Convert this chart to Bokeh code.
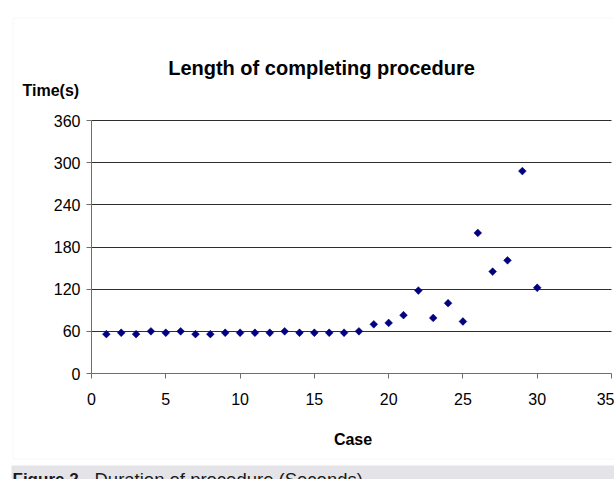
import numpy as np
from bokeh.plotting import figure
from bokeh.models import Range1d, FixedTicker, Label, BoxAnnotation, ColumnDataSource
from bokeh.embed import file_html
from bokeh.resources import INLINE

# ---- data ----
cases = list(range(1, 31))
times = [56, 58, 56, 60, 58, 60, 56, 56, 58, 58, 58, 58, 60, 58, 58, 58, 58, 60,
         70, 72, 83, 118, 79, 100, 74, 200, 145, 161, 288, 122]
x_ticks = [0, 5, 10, 15, 20, 25, 30, 35]
y_ticks = [0, 60, 120, 180, 240, 300, 360]
grid_ticks = [60, 120, 180, 240, 300, 360]
title_text = "Length of completing procedure"
y_label = "Time(s)"
x_label = "Case"
caption_bold = "Figure 2."
caption_text = "Duration of procedure (Seconds)"

W, H = 614, 479
# plot area on the canvas: x 0..35 -> px 91..611, y 0..360 -> px 373..120
X0, X1, Y0, Y1 = 91.0, 611.0, 373.0, 120.0
kx = (X1 - X0) / 35.0
ky = (Y0 - Y1) / 360.0

def px2x(px):
    return (px - X0) / kx

def px2y(py):
    return (Y0 - py) / ky

FONT = "Liberation Sans"

p = figure(width=W, height=H, title=None,
           x_range=Range1d(px2x(0), px2x(W)), y_range=Range1d(px2y(H), px2y(0)),
           output_backend="svg", toolbar_location=None,
           min_border=0, min_border_left=0, min_border_right=0,
           min_border_top=0, min_border_bottom=0)
p.outline_line_color = None
p.background_fill_color = "white"
p.border_fill_color = "white"

# outer chart border and caption band
p.add_layout(BoxAnnotation(left=px2x(12.5), right=px2x(640), top=px2y(17.5), bottom=px2y(458.5),
                           fill_color=None, line_color="#eee0d3", line_width=1, level="underlay"))
p.add_layout(BoxAnnotation(left=px2x(11), right=px2x(640), top=px2y(465), bottom=px2y(520),
                           fill_color="#e4e4e8", fill_alpha=1, line_color=None, level="underlay"))

# grid (horizontal lines only across the plot area)
p.xgrid.visible = False
ygrid = p.ygrid[0]
ygrid.ticker = FixedTicker(ticks=grid_ticks)
ygrid.grid_line_color = "#2e2e2e"
ygrid.grid_line_width = 1
if "cross_bounds" in ygrid.properties():
    ygrid.cross_bounds = (0, 35)
else:
    ygrid.visible = False
    p.segment(x0=[x_ticks[0]] * len(grid_ticks), x1=[x_ticks[-1]] * len(grid_ticks),
              y0=grid_ticks, y1=grid_ticks, line_color="#2e2e2e", line_width=1,
              level="underlay")

# axes drawn at the data origin
for ax in (p.xaxis, p.yaxis):
    ax.fixed_location = 0
    ax.axis_line_color = "#6e6e6e"
    ax.major_tick_line_color = "#6e6e6e"
    ax.minor_tick_line_color = None
    ax.major_tick_in = 0
    ax.major_tick_out = 5
    ax.major_label_text_font = FONT
    ax.major_label_text_font_size = "16px"
    ax.major_label_text_color = "black"
p.xaxis.ticker = FixedTicker(ticks=x_ticks)
p.yaxis.ticker = FixedTicker(ticks=y_ticks)
p.xaxis.bounds = (0, 35)
p.yaxis.bounds = (0, 360)
p.xaxis.major_label_standoff = 14
p.yaxis.major_label_standoff = 6

# data points (diamonds)
src = ColumnDataSource(dict(case=cases, time=times))
p.scatter(x="case", y="time", source=src, marker="square", angle=np.pi / 4, size=5.5,
          fill_color="#000080", line_color="#000080", line_width=0.5)

# texts
def add_text(px, py, text, size, style="normal", align="left", color="black"):
    p.add_layout(Label(x=px2x(px), y=px2y(py), text=text, text_align=align,
                       text_baseline="alphabetic", text_font=FONT, text_font_style=style,
                       text_font_size=size, text_color=color))

add_text(321, 67, title_text, "20px", "bold", "center")
add_text(22, 90, y_label, "16px", "bold")
add_text(352.5, 439, x_label, "16px", "bold", "center")
add_text(12, 479, caption_bold, "17px", "bold", color="#1a1a1a")
add_text(94, 479, caption_text, "18.5px", "normal", color="#1a1a1a")

open("out.html", "w").write(file_html(p, INLINE))
